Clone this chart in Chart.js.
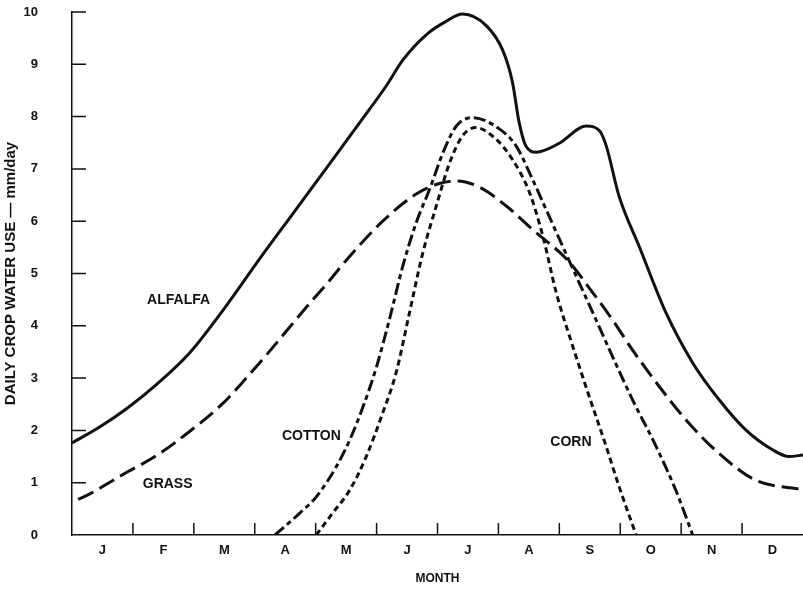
<!DOCTYPE html>
<html>
<head>
<meta charset="utf-8">
<script src="https://cdn.jsdelivr.net/npm/chart.js@4.4.1/dist/chart.umd.min.js"></script>
<style>
    body { margin: 0; background: #fff; }
</style>
</head>
<body>
<canvas id="myChart" width="803" height="590"></canvas>
<script>
// month labels along the bottom (each label sits in the middle of its month)
var monthLabels = ["J", "F", "M", "A", "M", "J", "J", "A", "S", "O", "N", "D"];

// x = months from 1 Jan, y = mm/day
var alfalfaMonth = [0, 0.46, 0.90, 1.39, 1.93, 2.48, 3.08, 3.63, 4.18, 4.72, 5.16, 5.43, 5.81, 6.14, 6.41, 6.80, 7.07, 7.23, 7.34, 7.45, 7.62, 8.00, 8.44, 8.66, 8.77, 8.98, 9.31, 9.75, 10.19, 10.62, 11.06, 11.50, 11.77, 12];
var alfalfaUse = [1.76, 2.07, 2.42, 2.88, 3.48, 4.30, 5.28, 6.15, 7.02, 7.88, 8.59, 9.08, 9.56, 9.82, 9.96, 9.74, 9.27, 8.66, 7.89, 7.44, 7.32, 7.49, 7.82, 7.73, 7.44, 6.48, 5.52, 4.25, 3.29, 2.59, 2.01, 1.63, 1.50, 1.53];

var grassMonth = [0.10, 0.30, 0.84, 1.39, 1.93, 2.48, 2.86, 3.19, 3.52, 3.85, 4.18, 4.56, 5.10, 5.65, 6.03, 6.31, 6.69, 7.13, 7.56, 8.14, 8.55, 8.87, 9.20, 9.64, 10.08, 10.62, 11.22, 11.88, 12];
var grassUse = [0.68, 0.79, 1.16, 1.52, 1.98, 2.52, 3.00, 3.44, 3.90, 4.36, 4.80, 5.33, 6.00, 6.52, 6.72, 6.77, 6.65, 6.29, 5.84, 5.25, 4.63, 4.12, 3.54, 2.84, 2.20, 1.56, 1.05, 0.89, 0.88];

var cottonMonth = [3.33, 3.74, 4.01, 4.34, 4.56, 4.78, 5.00, 5.21, 5.43, 5.65, 5.87, 6.09, 6.31, 6.58, 7.02, 7.29, 7.56, 7.78, 8.14, 8.55, 8.87, 9.20, 9.59, 9.91, 10.19];
var cottonUse = [0, 0.42, 0.73, 1.31, 1.82, 2.46, 3.22, 4.12, 5.14, 5.97, 6.61, 7.31, 7.82, 7.98, 7.76, 7.44, 6.80, 6.23, 5.30, 4.25, 3.42, 2.59, 1.69, 0.86, 0];

var cornMonth = [4.01, 4.28, 4.56, 4.83, 5.10, 5.32, 5.54, 5.76, 5.98, 6.20, 6.41, 6.63, 6.96, 7.23, 7.51, 7.73, 7.95, 8.22, 8.49, 8.77, 8.98, 9.26];
var cornUse = [0, 0.42, 0.86, 1.50, 2.33, 3.10, 4.25, 5.40, 6.29, 7.12, 7.63, 7.79, 7.57, 7.18, 6.55, 5.71, 4.63, 3.61, 2.65, 1.69, 0.93, 0];

function toPoints(xs, ys) {
    return xs.map(function (m, i) {
        return { x: m, y: ys[i] };
    });
}

var ink = "#111";
var fontFamily = "'Liberation Sans', Arial, sans-serif";

// short tick marks drawn inward from both axes
var tickMarks = {
    id: "tickMarks",
    beforeDatasetsDraw: function (chart) {
        var ctx = chart.ctx;
        var xs = chart.scales.x;
        var ys = chart.scales.y;
        ctx.save();
        ctx.strokeStyle = ink;
        ctx.lineWidth = 1.5;
        ctx.beginPath();
        for (var v = 1; v <= 10; v++) {
            var py = ys.getPixelForValue(v);
            ctx.moveTo(xs.left, py);
            ctx.lineTo(xs.left + 14, py);
        }
        for (var m = 1; m < 12; m++) {
            var px = xs.getPixelForValue(m);
            ctx.moveTo(px, ys.bottom);
            ctx.lineTo(px, ys.bottom - 12);
        }
        ctx.stroke();
        ctx.restore();
    }
};

// crop names written next to their curves
var curveNames = {
    id: "curveNames",
    afterDatasetsDraw: function (chart, args, opts) {
        var ctx = chart.ctx;
        ctx.save();
        ctx.fillStyle = ink;
        ctx.font = "bold 14px " + fontFamily;
        ctx.textAlign = "center";
        ctx.textBaseline = "middle";
        opts.items.forEach(function (item) {
            ctx.fillText(item.text, chart.scales.x.getPixelForValue(item.at[0]), chart.scales.y.getPixelForValue(item.at[1]));
        });
        ctx.restore();
    }
};

new Chart("myChart", {
    type: "line",
    data: {
        datasets: [{
            label: "ALFALFA",
            data: toPoints(alfalfaMonth, alfalfaUse),
            borderColor: ink,
            borderWidth: 3,
            fill: false
        }, {
            label: "GRASS",
            data: toPoints(grassMonth, grassUse),
            borderColor: ink,
            borderWidth: 3,
            borderDash: [17, 7],
            fill: false
        }, {
            label: "COTTON",
            data: toPoints(cottonMonth, cottonUse),
            borderColor: ink,
            borderWidth: 3,
            borderDash: [12, 4, 5, 4],
            fill: false
        }, {
            label: "CORN",
            data: toPoints(cornMonth, cornUse),
            borderColor: ink,
            borderWidth: 3,
            borderDash: [6, 4],
            fill: false
        }]
    },
    plugins: [tickMarks, curveNames],
    options: {
        responsive: false,
        animation: false,
        cubicInterpolationMode: "monotone",
        elements: {
            point: { radius: 0 },
            line: { borderCapStyle: "butt" }
        },
        layout: { padding: { top: 12, right: 0, left: 0, bottom: 0 } },
        plugins: {
            legend: { display: false },
            tooltip: { enabled: false },
            curveNames: {
                items: [
                    { text: "ALFALFA", at: [1.75, 4.49] },
                    { text: "GRASS", at: [1.57, 0.98] },
                    { text: "COTTON", at: [3.93, 1.89] },
                    { text: "CORN", at: [8.19, 1.77] }
                ]
            }
        },
        scales: {
            x: {
                type: "linear",
                min: 0,
                max: 12,
                afterBuildTicks: function (scale) {
                    scale.ticks = monthLabels.map(function (l, i) {
                        return { value: i + 0.5 };
                    });
                },
                afterFit: function (scale) {
                    scale.height = 55;
                },
                grid: { display: false, drawTicks: false, tickLength: 0 },
                border: { display: true, color: ink, width: 1.5 },
                ticks: {
                    autoSkip: false,
                    maxRotation: 0,
                    padding: 8,
                    color: ink,
                    font: { family: fontFamily, size: 13, weight: "bold" },
                    callback: function (v) {
                        return monthLabels[Math.floor(v)];
                    }
                },
                title: {
                    display: true,
                    text: "MONTH",
                    color: ink,
                    font: { family: fontFamily, size: 12, weight: "bold" },
                    padding: { top: 4, bottom: 4 }
                }
            },
            y: {
                min: 0,
                max: 10,
                afterFit: function (scale) {
                    scale.width = 72;
                    // the big label padding must not push the plot down
                    scale.paddingTop = 0;
                    scale.paddingBottom = 0;
                },
                grid: { display: false, drawTicks: false, tickLength: 0 },
                border: { display: true, color: ink, width: 1.5 },
                ticks: {
                    stepSize: 1,
                    padding: 34,
                    color: ink,
                    font: { family: fontFamily, size: 13, weight: "bold" }
                },
                title: {
                    display: true,
                    text: "DAILY CROP WATER USE \u2014 mm/day",
                    color: ink,
                    font: { family: fontFamily, size: 15, weight: "bold" },
                    padding: { top: 2, bottom: 4 }
                }
            }
        }
    }
});
</script>
</body>
</html>
